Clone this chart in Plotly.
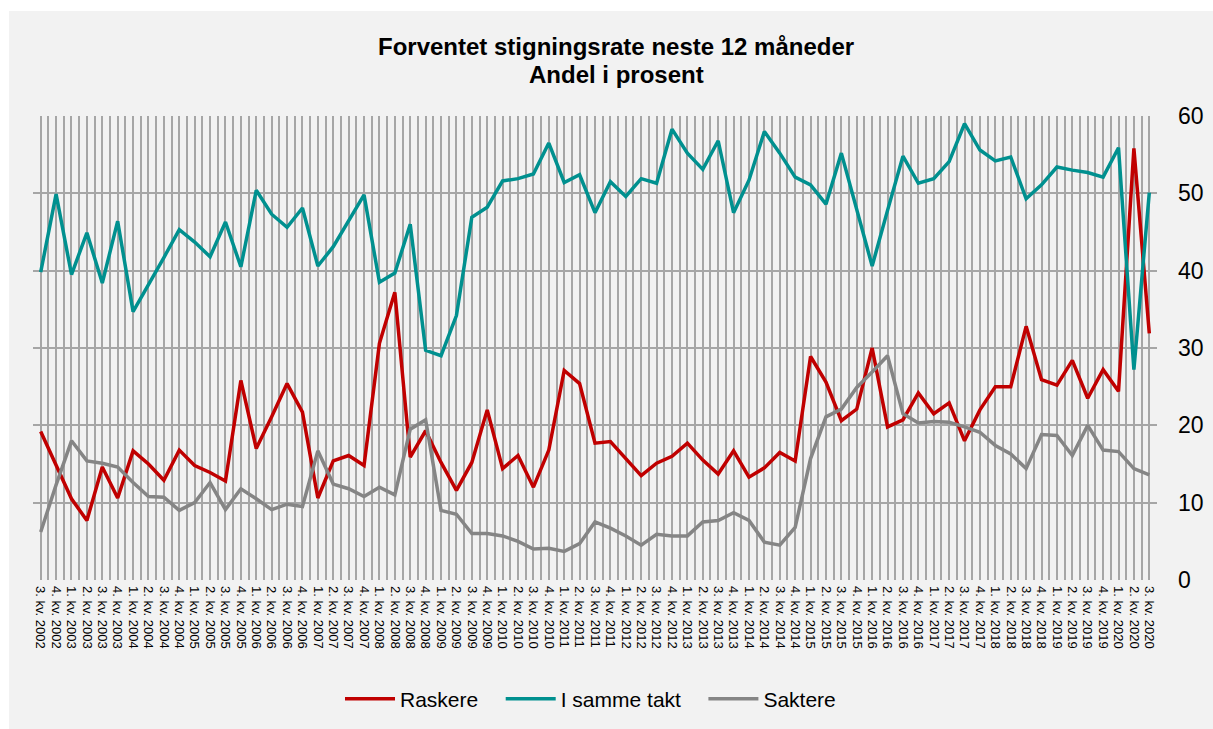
import plotly.graph_objects as go

years = list(range(2002, 2021))
quarters = []
for y in years:
    for q in range(1, 5):
        if (y == 2002 and q < 3) or (y == 2020 and q > 3):
            continue
        quarters.append(f"{q}. kv. {y}")

raskere = [19.2, 14.8, 10.5, 7.7, 14.6, 10.6, 16.7, 15.0, 12.9, 16.8,
           14.8, 13.9, 12.8, 25.8, 17.0, 21.1, 25.4, 21.7, 10.6, 15.4,
           16.1, 14.8, 30.6, 37.2, 15.9, 19.3, 15.2, 11.6, 15.2, 22.0,
           14.4, 16.1, 12.0, 16.8, 27.1, 25.4, 17.7, 17.9, 15.7, 13.5,
           15.1, 16.0, 17.7, 15.5, 13.7, 16.7, 13.3, 14.5, 16.5, 15.4,
           28.9, 25.6, 20.6, 22.1, 30.0, 19.8, 20.7, 24.2, 21.5, 22.9,
           18.0, 22.0, 25.0, 25.0, 32.8, 25.9, 25.2, 28.4, 23.5, 27.2,
           24.4, 55.8, 31.9]

samme_takt = [39.8, 49.9, 39.5, 44.9, 38.4, 46.4, 34.7, 38.1, 41.7, 45.3,
              43.7, 41.8, 46.3, 40.5, 50.4, 47.3, 45.6, 48.1, 40.6, 43.1,
              46.4, 49.8, 38.5, 39.7, 46.0, 29.7, 29.0, 34.2, 46.9, 48.2,
              51.6, 51.9, 52.5, 56.5, 51.4, 52.4, 47.5, 51.5, 49.6, 51.9,
              51.3, 58.3, 55.2, 53.1, 56.8, 47.5, 51.7, 58.0, 55.2, 52.1,
              51.1, 48.6, 55.2, 47.9, 40.6, 47.8, 54.8, 51.3, 51.9, 54.1,
              59.0, 55.6, 54.2, 54.7, 49.3, 51.1, 53.4, 53.0, 52.7, 52.1,
              55.9, 27.2, 50.1]

saktere = [6.2, 12.3, 18.0, 15.4, 15.1, 14.6, 12.6, 10.8, 10.7, 9.0,
           10.0, 12.6, 9.1, 11.8, 10.5, 9.1, 9.8, 9.5, 16.7, 12.4,
           11.8, 10.8, 12.0, 11.0, 19.5, 20.7, 9.0, 8.5, 6.0, 6.0,
           5.7, 5.0, 4.0, 4.1, 3.7, 4.7, 7.5, 6.7, 5.7, 4.5,
           5.9, 5.7, 5.7, 7.5, 7.7, 8.7, 7.7, 4.9, 4.5, 6.8,
           15.7, 21.1, 22.1, 24.9, 26.9, 29.0, 21.5, 20.3, 20.5, 20.4,
           19.8, 19.1, 17.4, 16.3, 14.4, 18.8, 18.7, 16.1, 20.0, 16.8,
           16.6, 14.4, 13.6]

y_ticks = [0, 10, 20, 30, 40, 50, 60]

series_names = ["Raskere", "I samme takt", "Saktere"]
series_values = [raskere, samme_takt, saktere]
series_colors = ["#c00000", "#00908f", "#858585"]

x = list(range(len(quarters)))
NB = "\u00a0"

fig = go.Figure()
for k, (name, vals, col) in enumerate(zip(series_names, series_values, series_colors)):
    label = name + (NB * 3 if k < len(series_names) - 1 else "")
    fig.add_trace(go.Scatter(
        x=x, y=vals, name=label, mode="lines",
        line=dict(color=col, width=3.5),
    ))

W, H = 1213, 729
ml, mr, mt, mb = 33, 56, 116, 149
PW, PH = W - ml - mr, H - mt - mb


def px_x(px):
    return (px - ml) / PW


def px_y(py):
    return (H - mb - py) / PH


fig.update_layout(
    width=W, height=H,
    margin=dict(l=ml, r=mr, t=mt, b=mb, pad=0, autoexpand=False),
    paper_bgcolor="white",
    plot_bgcolor="#f2f2f2",
    font=dict(family="Liberation Sans, Arial, sans-serif", color="#000000"),
    showlegend=True,
    legend=dict(
        orientation="h",
        x=340 / W, xanchor="left",
        y=1 - 699 / H, yanchor="middle",
        yref="container", xref="container",
        font=dict(size=21, color="#000000"),
        bgcolor="rgba(0,0,0,0)",
        itemwidth=50,
        tracegroupgap=0,
    ),
    shapes=[dict(
        type="rect", xref="paper", yref="paper", layer="below",
        x0=px_x(9), x1=px_x(1213),
        y0=px_y(729), y1=px_y(11),
        fillcolor="#f2f2f2", line=dict(width=0),
    )],
    annotations=[
        dict(text="<b>Forventet stigningsrate neste 12 måneder</b>",
             xref="paper", yref="paper", x=px_x(616), y=px_y(47),
             xanchor="center", yanchor="middle", showarrow=False,
             font=dict(size=24, color="#000000")),
        dict(text="<b>Andel i prosent</b>",
             xref="paper", yref="paper", x=px_x(616), y=px_y(75),
             xanchor="center", yanchor="middle", showarrow=False,
             font=dict(size=24, color="#000000")),
    ],
)

fig.update_xaxes(
    range=[-0.5, len(quarters) - 0.5],
    tickmode="array",
    tickvals=x,
    ticktext=quarters,
    tickangle=90,
    tickfont=dict(size=13, color="#000000"),
    showgrid=True, gridcolor="#a6a6a6", gridwidth=2,
    minor=dict(tickmode="array",
               tickvals=[i - 0.5 for i in range(len(quarters) + 1)],
               showgrid=True, gridcolor="#a6a6a6", gridwidth=2),
    zeroline=False, showline=False, ticks="",
    ticklabelstandoff=5,
    automargin=False,
    fixedrange=True,
)

fig.update_yaxes(
    range=[0, 60],
    side="right",
    tickmode="array", tickvals=y_ticks,
    tickfont=dict(size=23, color="#000000"),
    showgrid=True, gridcolor="#a6a6a6", gridwidth=2,
    zeroline=False, showline=False, ticks="",
    ticklabelstandoff=20,
    automargin=False,
    fixedrange=True,
)

fig.write_html(
    "out.html",
    config={"displayModeBar": False},
    post_script="document.body.style.margin='0';document.body.style.overflow='hidden';",
)
